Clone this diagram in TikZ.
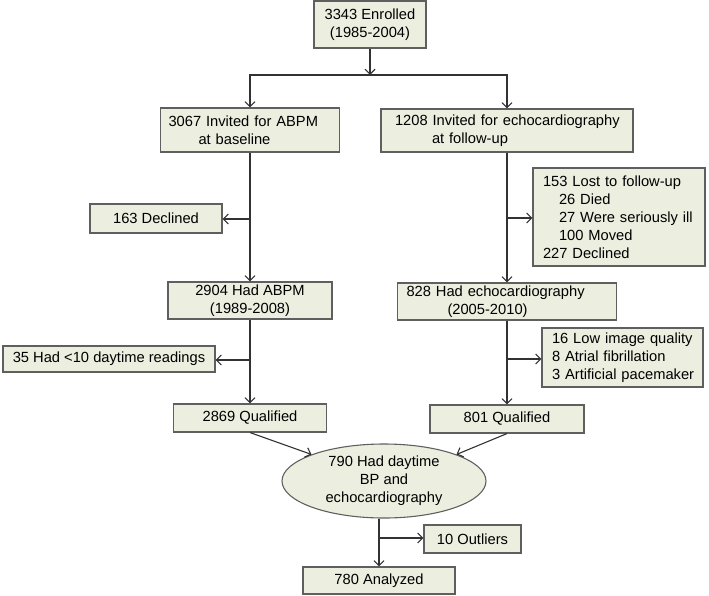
\documentclass[tikz,border=0pt]{standalone}
\usepackage{fontspec}
\setmainfont{Liberation Sans}
\usetikzlibrary{arrows.meta,shapes.geometric}
\definecolor{boxfill}{RGB}{236,238,224}
\definecolor{boxline}{RGB}{95,95,95}
\definecolor{linegray}{RGB}{50,50,50}
\begin{document}
\begin{tikzpicture}[
    x=1pt, y=-1pt,
    font=\fontsize{14.7}{18}\selectfont,
    block/.style={rectangle, draw=boxline, fill=boxfill, line width=1.1pt, inner sep=0pt, align=center},
    leftblock/.style={block, align=left},
    pool/.style={ellipse, draw=boxline, fill=boxfill, line width=1.1pt, inner sep=0pt, align=center},
    arrow/.style={draw=linegray, line width=1.1pt, -{Straight Barb[length=5pt,width=10pt]}}
]
    \useasboundingbox (0,0) rectangle (709,595);

    \node [block, minimum width=112pt, minimum height=47pt] (enrolled) at (370,24.5) {3343 Enrolled\\(1985-2004)};
    \node [leftblock, inner xsep=8pt, text width=163pt, minimum height=44pt] (invABPM) at (250,130) {3067 Invited for ABPM\\\hspace*{30pt}at baseline};
    \node [leftblock, inner xsep=14pt, text width=224pt, minimum height=43pt] (invEcho) at (507,130.5) {\mbox{1208 Invited for echocardiography}\\\hspace*{37pt}at follow-up};
    \node [block, minimum width=132pt, minimum height=29pt] (declined) at (156,218.5) {163 Declined};
    \node [leftblock, inner xsep=10pt, text width=152pt, minimum height=98pt] (lost) at (619,217) {153 Lost to follow-up\\\hspace*{16pt}26 Died\\\hspace*{16pt}\mbox{27 Were seriously ill}\\\hspace*{16pt}100 Moved\\227 Declined};
    \node [block, minimum width=164pt, minimum height=37pt] (hadABPM) at (250,300.5) {2904 Had ABPM\\(1989-2008)};
    \node [leftblock, inner xsep=9pt, text width=201pt, minimum height=37pt] (hadEcho) at (507,301.5) {828 Had echocardiography\\\hspace*{41pt}(2005-2010)};
    \node [block, minimum width=212pt, minimum height=26pt] (readings) at (109,359) {35 Had <10 daytime readings};
    \node [leftblock, inner xsep=10pt, text width=141pt, minimum height=59pt] (excluded) at (622.5,357.5) {16 Low image quality\\8 Atrial fibrillation\\\mbox{3 Artificial pacemaker}};
    \node [block, minimum width=153pt, minimum height=28pt] (qualABPM) at (250,418) {2869 Qualified};
    \node [block, minimum width=154pt, minimum height=28pt] (qualEcho) at (507,419) {801 Qualified};
    \node [pool, minimum width=204pt, minimum height=74pt] (both) at (384,481) {790 Had daytime\\BP and\\echocardiography};
    \node [block, minimum width=97pt, minimum height=28pt] (outliers) at (472.5,539) {10 Outliers};
    \node [block, minimum width=152pt, minimum height=27pt] (analyzed) at (379,580.5) {780 Analyzed};

    \coordinate (fork) at (370,75);
    \coordinate (brA) at (250,219);
    \coordinate (brB) at (507,218);
    \coordinate (brC) at (250,360);
    \coordinate (brD) at (507,359);
    \coordinate (brE) at (379,538);

    \draw [arrow] (enrolled) -- (fork);
    \draw [arrow] (fork) -| (invABPM);
    \draw [arrow] (fork) -| (invEcho);
    \draw [arrow] (invABPM) -- (hadABPM);
    \draw [arrow] (invEcho) -- (hadEcho);
    \draw [arrow] (brA) -- (brA -| declined.east);
    \draw [arrow] (brB) -- (brB -| lost.west);
    \draw [arrow] (hadABPM) -- (qualABPM);
    \draw [arrow] (hadEcho) -- (qualEcho);
    \draw [arrow] (brC) -- (brC -| readings.east);
    \draw [arrow] (brD) -- (brD -| excluded.west);
    \draw [arrow] (qualABPM.south) -- (both.north west);
    \draw [arrow] (qualEcho.south) -- (both.north east);
    \draw [arrow] (both.south -| analyzed) -- (analyzed);
    \draw [arrow] (brE) -- (brE -| outliers.west);
\end{tikzpicture}
\end{document}
